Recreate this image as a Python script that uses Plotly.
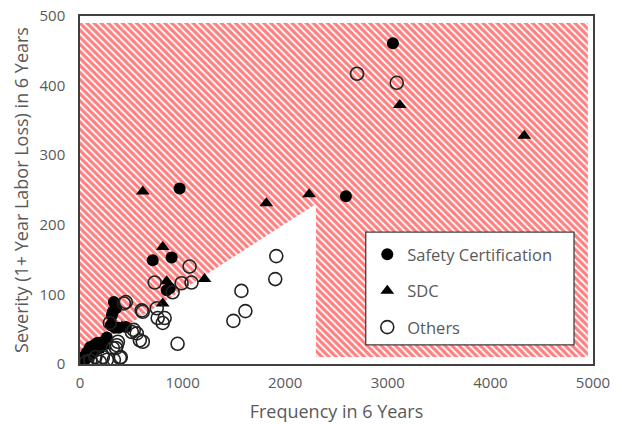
import plotly.graph_objects as go

# Safety Certification (filled circles)
sc_x = [3050, 971, 2592, 709, 893, 874, 845, 330, 320, 350, 311, 301, 340, 379, 447,
        136, 204, 107, 68, 39, 5, 97, 165, 29, 194, 262, 150, 80, 20, 120, 60, 230]
sc_y = [461, 252, 241, 149, 153, 109, 106, 89, 75, 80, 70, 56, 52, 52, 53,
        27, 31, 23, 17, 10, 2, 24, 30, 10, 23, 38, 20, 12, 5, 15, 8, 28]

# SDC (filled triangles)
sdc_x = [3117, 4330, 612, 1816, 2233, 806, 1214, 845, 806, 408, 340, 437, 30, 60, 100, 150, 250]
sdc_y = [372, 328, 248, 231, 244, 168, 122, 119, 87, 54, 52, 52, 5, 10, 15, 20, 25]

# Others (open circles)
oth_x = [2700, 3087, 1913, 1903, 1573, 1612, 1495, 951, 1068, 1087, 990, 728, 903, 748,
         757, 825, 806, 612, 447, 427, 602, 524, 553, 583, 612, 505, 369, 320, 291, 359,
         388, 330, 262, 223, 194, 398, 350, 150, 100, 60]
oth_y = [417, 404, 155, 122, 105, 76, 62, 29, 140, 117, 116, 117, 103, 80,
         66, 66, 59, 75, 89, 87, 77, 49, 44, 34, 32, 46, 32, 23, 59, 27,
         9, 6, 6, 10, 3, 10, 23, 10, 5, 3]

# Hatched high-risk region outline (data coordinates)
region_x = [0, 2300, 2300, 4950, 4950, 0, 0]
region_y = [12, 230, 10, 10, 490, 490, 12]

x_ticks = [0, 1000, 2000, 3000, 4000, 5000]
y_ticks = [0, 100, 200, 300, 400, 500]

FONT = "Open Sans"
GRAY = "#595959"

fig = go.Figure()

fig.add_trace(go.Scatter(
    x=region_x, y=region_y, mode="lines", fill="toself",
    line=dict(width=0, color="red"),
    fillcolor="white",
    fillpattern=dict(shape="\\", fgcolor="#ff0000", bgcolor="white", size=5, solidity=0.65),
    showlegend=False, hoverinfo="skip",
))

fig.add_trace(go.Scatter(
    x=sc_x, y=sc_y, mode="markers", name="Safety Certification",
    legendgroup="a",
    marker=dict(symbol="circle", size=12, color="black"),
))
fig.add_trace(go.Scatter(
    x=sdc_x, y=sdc_y, mode="markers", name="SDC",
    legendgroup="b",
    marker=dict(symbol="triangle-up", size=12, color="black"),
))
fig.add_trace(go.Scatter(
    x=oth_x, y=oth_y, mode="markers", name="Others",
    legendgroup="c",
    marker=dict(symbol="circle-open", size=13, color="#222222", line=dict(width=1.6, color="#222222")),
))

# legend box
fig.add_shape(type="rect", xref="paper", yref="paper",
              x0=0.557, x1=0.963, y0=0.055, y1=0.379,
              fillcolor="white", line=dict(color="#404040", width=1.3), layer="above")

fig.update_layout(
    width=622, height=425,
    margin=dict(l=80, r=29, t=16, b=61),
    paper_bgcolor="white", plot_bgcolor="white",
    font=dict(family=FONT, color=GRAY),
    showlegend=True,
    legend=dict(x=0.56, y=0.365, xanchor="left", yanchor="top",
                bgcolor="rgba(0,0,0,0)", borderwidth=0,
                traceorder="grouped", tracegroupgap=12,
                itemwidth=30,
                font=dict(family=FONT, size=16.5, color=GRAY)),
    xaxis=dict(range=[0, 5000], tickvals=x_ticks, showgrid=False, zeroline=False,
               showline=True, mirror=True, linecolor="#404040", linewidth=1.5,
               ticks="", tickfont=dict(size=15, color=GRAY), ticklabelstandoff=4,
               automargin=False,
               title=dict(text="Frequency in 6 Years", font=dict(size=18, color=GRAY), standoff=15)),
    yaxis=dict(range=[0, 500], tickvals=y_ticks, showgrid=False, zeroline=False,
               showline=True, mirror=True, linecolor="#404040", linewidth=1.5,
               ticks="", tickfont=dict(size=15, color=GRAY), ticklabelstandoff=10,
               automargin=False,
               title=dict(text="Severity (1+ Year Labor Loss) in 6 Years", font=dict(size=18, color=GRAY), standoff=6)),
)

fig.write_html("out.html")
